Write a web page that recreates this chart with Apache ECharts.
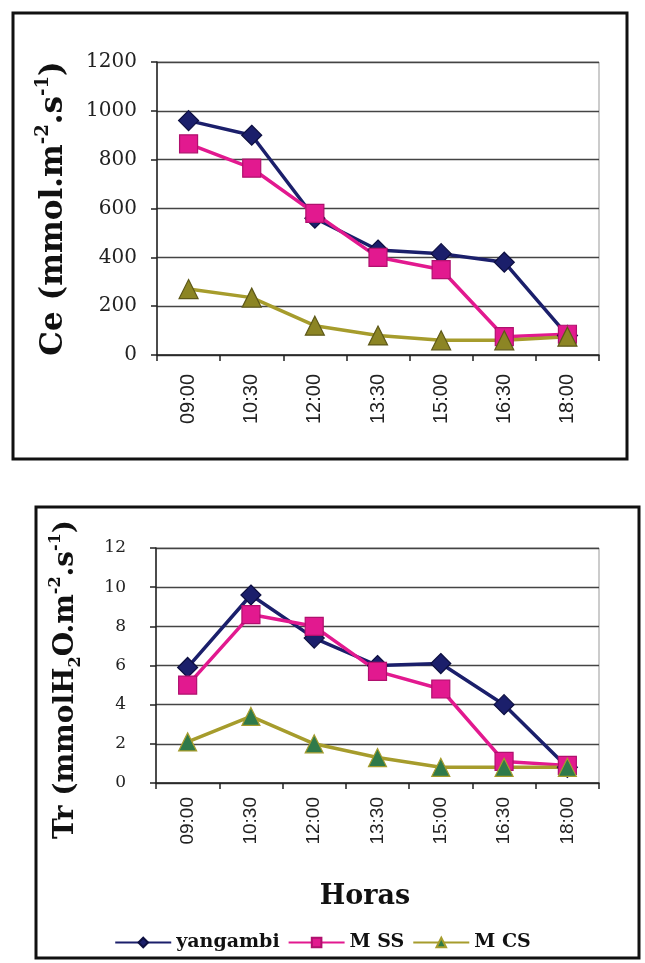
<!DOCTYPE html>
<html>
<head>
<meta charset="utf-8">
<script src="https://cdn.jsdelivr.net/npm/echarts@6/dist/echarts.min.js"></script>
<style>
  html, body { margin: 0; padding: 0; background: #fff; }
  #chart { width: 645px; height: 963px; }
</style>
</head>
<body>
<div id="chart"></div>
<script>
// Time of day for each measurement
const horas = ['09:00', '10:30', '12:00', '13:30', '15:00', '16:30', '18:00'];

// Ce (mmol.m-2.s-1)
const ceYangambi = [960, 900, 560, 430, 415, 380, 80];
const ceMSS      = [865, 765, 580, 400, 350, 75, 85];
const ceMCS      = [270, 235, 120, 80, 60, 60, 75];

// Tr (mmolH2O.m-2.s-1)
const trYangambi = [5.9, 9.6, 7.4, 6.0, 6.1, 4.0, 0.8];
const trMSS      = [5.0, 8.6, 8.0, 5.7, 4.8, 1.1, 0.9];
const trMCS      = [2.1, 3.4, 2.0, 1.3, 0.8, 0.8, 0.8];

const ceTicks = [0, 200, 400, 600, 800, 1000, 1200];
const trTicks = [0, 2, 4, 6, 8, 10, 12];

const serif = '"DejaVu Serif", "Liberation Serif", serif';
const sans = '"Liberation Sans", Arial, sans-serif';

const NAVY = '#1b1f6b';
const MAGENTA = '#e2198f';
const OLIVE = '#a69c2c';
const GREEN = '#2f7a4a';

const chart = echarts.init(document.getElementById('chart'));

function titleRich(size) {
  const sup = Math.round(size * 0.58);
  const lh = Math.round(size * 1.3);
  return {
    b: { fontFamily: serif, fontWeight: 'bold', fontSize: size, color: '#111', lineHeight: lh },
    sup: { fontFamily: serif, fontWeight: 'bold', fontSize: sup, color: '#111', verticalAlign: 'top', lineHeight: lh, padding: [0, 0, Math.round(size * 0.5), 0] },
    sub: { fontFamily: serif, fontWeight: 'bold', fontSize: sup, color: '#111', verticalAlign: 'bottom', lineHeight: lh, padding: [Math.round(size * 0.3), 0, 0, 0] }
  };
}

// shift > 0 moves the rotated title up the page, shift < 0 moves it down
function yAxisFor(gridIndex, ticks, name, titleSize, nameGap, shift, labelSize, labelMargin) {
  const pad = shift >= 0 ? [0, 0, 0, shift * 2] : [0, -shift * 2, 0, 0];
  return {
    type: 'value',
    gridIndex: gridIndex,
    min: ticks[0],
    max: ticks[ticks.length - 1],
    interval: ticks[1] - ticks[0],
    axisLine: { show: true, lineStyle: { color: '#222', width: 1.5 } },
    axisTick: { show: true, length: 6, lineStyle: { color: '#222', width: 1.5 } },
    axisLabel: {
      color: '#222', fontFamily: serif, fontSize: labelSize, margin: labelMargin,
      formatter: function (v) { return String(v); }
    },
    splitLine: { show: true, lineStyle: { color: '#444', width: 1.3 } },
    name: name,
    nameLocation: 'middle',
    nameRotate: 90,
    nameGap: nameGap,
    nameMoveOverlap: false,
    nameTextStyle: {
      fontFamily: serif, fontWeight: 'bold', fontSize: titleSize, color: '#111',
      padding: pad,
      rich: titleRich(titleSize)
    }
  };
}

function xAxisFor(gridIndex, labelSize, labelMargin, extra) {
  return Object.assign({
    type: 'category',
    gridIndex: gridIndex,
    data: horas,
    boundaryGap: true,
    axisLine: { show: true, lineStyle: { color: '#222', width: 1.5 } },
    axisTick: { show: true, length: 6, alignWithLabel: false, lineStyle: { color: '#222', width: 1.5 } },
    axisLabel: { color: '#222', fontFamily: sans, fontSize: labelSize, rotate: 90, margin: labelMargin },
    splitLine: { show: false }
  }, extra || {});
}

function lineSeries(name, data, xi, yi, symbol, size, fill, stroke, lineColor) {
  return {
    name: name,
    type: 'line',
    xAxisIndex: xi,
    yAxisIndex: yi,
    data: data,
    symbol: symbol,
    symbolSize: size,
    showAllSymbol: true,
    lineStyle: { color: lineColor, width: 3.5 },
    itemStyle: { color: fill, borderColor: stroke, borderWidth: 1.2 },
    emphasis: { disabled: true },
    animation: false
  };
}

const option = {
  backgroundColor: '#ffffff',
  animation: false,
  graphic: [
    { type: 'rect', shape: { x: 13, y: 13, width: 614, height: 446 }, style: { fill: 'none', stroke: '#111', lineWidth: 3 }, silent: true },
    { type: 'rect', shape: { x: 36, y: 507, width: 603, height: 451 }, style: { fill: 'none', stroke: '#111', lineWidth: 3 }, silent: true }
  ],
  grid: [
    { left: 157, top: 62, width: 442, height: 293, show: true, borderColor: '#999', borderWidth: 1, backgroundColor: 'transparent' },
    { left: 156, top: 548, width: 443, height: 235, show: true, borderColor: '#999', borderWidth: 1, backgroundColor: 'transparent' }
  ],
  xAxis: [
    xAxisFor(0, 20, 19),
    xAxisFor(1, 19, 14, {
      name: 'Horas',
      nameLocation: 'middle',
      nameGap: 100,
      nameMoveOverlap: false,
      nameTextStyle: { fontFamily: serif, fontWeight: 'bold', fontSize: 27, color: '#111', padding: [0, 25, 0, 0] }
    })
  ],
  yAxis: [
    yAxisFor(0, ceTicks, '{b|Ce (mmol.m}{sup|-2}{b|.s}{sup|-1}{b|)}', 31, 83, 0, 20, 20),
    yAxisFor(1, trTicks, '{b|Tr (mmolH}{sub|2}{b|O.m}{sup|-2}{b|.s}{sup|-1}{b|)}', 28, 72, -14, 17, 30)
  ],
  legend: {
    top: 928,
    left: 'center',
    itemWidth: 56,
    itemHeight: 12,
    itemGap: 8,
    textStyle: { fontFamily: serif, fontWeight: 'bold', fontSize: 19, color: '#111' },
    data: [
      { name: 'yangambi' },
      { name: 'M SS' },
      { name: 'M CS', itemStyle: { color: GREEN, borderColor: OLIVE } }
    ]
  },
  series: [
    lineSeries('yangambi', ceYangambi, 0, 0, 'diamond', 20, NAVY, '#0d0f40', NAVY),
    lineSeries('M SS', ceMSS, 0, 0, 'rect', 18, MAGENTA, '#b0106e', MAGENTA),
    lineSeries('M CS', ceMCS, 0, 0, 'triangle', 19, '#8c8524', '#5d5818', OLIVE),
    lineSeries('yangambi', trYangambi, 1, 1, 'diamond', 20, NAVY, '#0d0f40', NAVY),
    lineSeries('M SS', trMSS, 1, 1, 'rect', 18, MAGENTA, '#b0106e', MAGENTA),
    lineSeries('M CS', trMCS, 1, 1, 'triangle', 18, GREEN, OLIVE, OLIVE)
  ]
};

chart.setOption(option);
</script>
</body>
</html>
